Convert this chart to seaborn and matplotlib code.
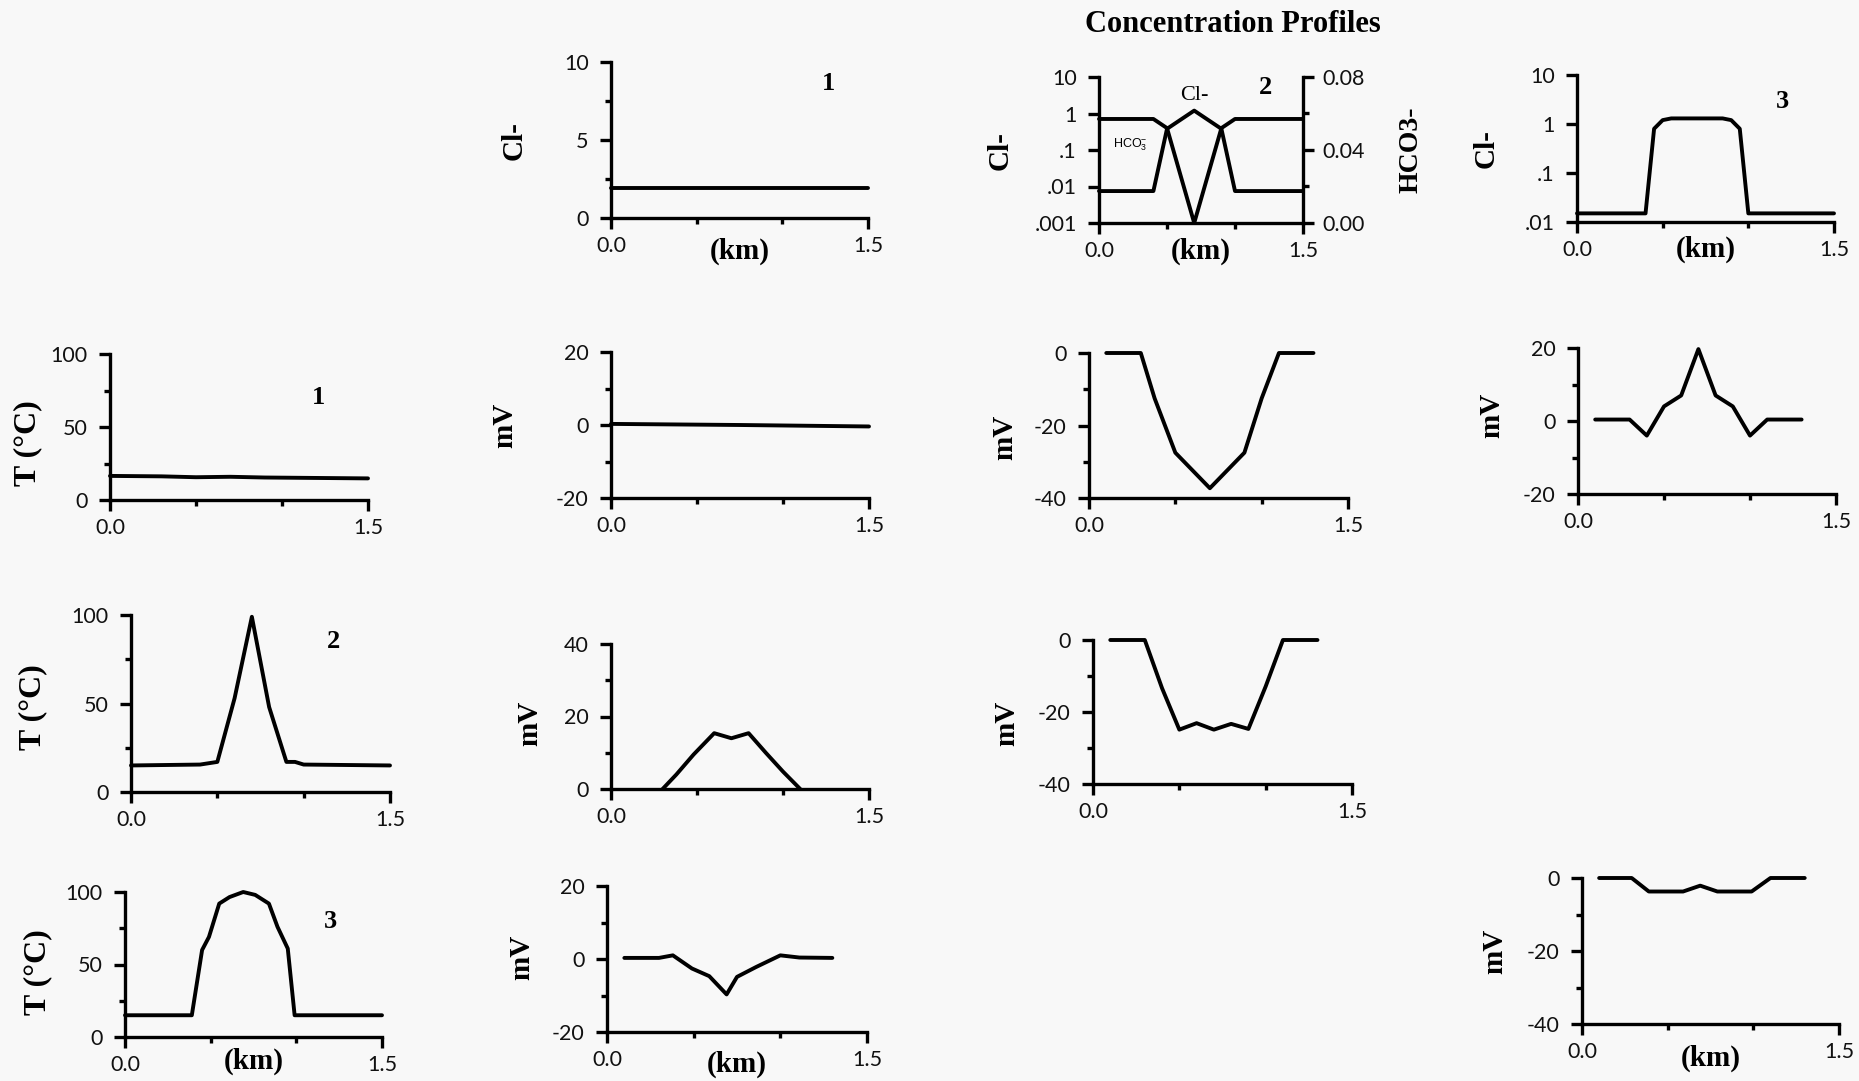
import matplotlib
matplotlib.use("Agg")
import matplotlib.pyplot as plt
import seaborn as sns
from matplotlib.ticker import FixedLocator, NullLocator

# ---------------- data ----------------
km_cl1 = [0.0, 1.5]
cl_1 = [1.9, 1.9]

km_cl2 = [0.0, 0.4, 0.5, 0.7, 0.9, 1.0, 1.5]
cl_2 = [0.0075, 0.0075, 0.38, 1.2, 0.38, 0.0075, 0.0075]
km_hco3 = [0.0, 0.4, 0.5, 0.7, 0.9, 1.0, 1.5]
hco3_2 = [0.057, 0.057, 0.052, 0.0, 0.052, 0.057, 0.057]

km_cl3 = [0.0, 0.4, 0.45, 0.5, 0.55, 0.85, 0.9, 0.95, 1.0, 1.5]
cl_3 = [0.015, 0.015, 0.8, 1.2, 1.3, 1.3, 1.2, 0.8, 0.015, 0.015]

km_t1 = [0.0, 0.3, 0.5, 0.7, 0.9, 1.1, 1.5]
t_1 = [16.5, 16.2, 15.6, 15.9, 15.4, 15.2, 14.8]

km_mv11 = [0.0, 0.75, 1.5]
mv_11 = [0.3, 0.0, -0.4]

km_mv12 = [0.1, 0.3, 0.38, 0.5, 0.7, 0.9, 1.0, 1.1, 1.3]
mv_12 = [0, 0, -12.5, -27.5, -37.3, -27.5, -12.5, 0, 0]

km_mv13 = [0.1, 0.3, 0.4, 0.5, 0.6, 0.7, 0.8, 0.9, 1.0, 1.1, 1.3]
mv_13 = [0.4, 0.4, -4, 4, 7, 19.7, 7, 4, -4, 0.4, 0.4]

km_t2 = [0.0, 0.4, 0.5, 0.6, 0.7, 0.8, 0.9, 0.95, 1.0, 1.5]
t_2 = [15, 15.5, 17, 53, 99, 48, 17, 17, 15.5, 15]

km_mv21 = [0.3, 0.38, 0.48, 0.6, 0.7, 0.8, 0.9, 1.0, 1.1]
mv_21 = [0, 4, 9.5, 15.4, 14, 15.4, 10, 4.8, 0]

km_mv22 = [0.1, 0.3, 0.4, 0.5, 0.6, 0.7, 0.8, 0.9, 1.0, 1.1, 1.3]
mv_22 = [0, 0, -13.4, -24.9, -23.1, -24.9, -23.3, -24.7, -12.9, 0, 0]

km_t3 = [0.0, 0.39, 0.45, 0.49, 0.55, 0.61, 0.69, 0.76, 0.84, 0.89, 0.95, 0.99, 1.5]
t_3 = [15, 15, 60, 69, 92, 96.5, 100, 98, 92, 76, 61, 15, 15]

km_mv31 = [0.1, 0.3, 0.38, 0.49, 0.59, 0.69, 0.75, 0.86, 1.0, 1.11, 1.3]
mv_31 = [0.3, 0.3, 1, -2.6, -4.7, -9.7, -4.9, -2.2, 1, 0.4, 0.3]

km_mv33 = [0.1, 0.29, 0.39, 0.59, 0.69, 0.79, 0.99, 1.1, 1.3]
mv_33 = [0, 0, -3.7, -3.7, -2.1, -3.7, -3.7, 0, 0]

x_tick_labels = ["0.0", "1.5"]

# ---------------- style ----------------
sns.set_theme(style="ticks")
plt.rcParams["font.family"] = ["Lato", "DejaVu Sans"]
plt.rcParams["axes.unicode_minus"] = False
plt.rcParams["mathtext.fontset"] = "custom"
plt.rcParams["mathtext.rm"] = "Liberation Sans"

BG = "#f8f8f8"
W, H = 1859, 1081
fig = plt.figure(figsize=(W / 100, H / 100), dpi=100, facecolor=BG)
SERIF = "Liberation Serif"
LW = 2.8
SW = 2.4


def add_ax(l, r, t, b):
    ax = fig.add_axes([l / W, 1 - b / H, (r - l) / W, (b - t) / H])
    ax.set_facecolor("none")
    return ax


def line(ax, x, y):
    sns.lineplot(x=x, y=y, ax=ax, color="black", linewidth=LW, clip_on=False)


def style(ax, ylim, ymaj, ylabs, ymin, ylabel, lab_xy, km_y=None, lab_fs=21):
    ax.set_xlim(0, 1.5)
    ax.set_ylim(*ylim)
    for s in ["top", "right"]:
        ax.spines[s].set_visible(False)
    for s in ["left", "bottom"]:
        ax.spines[s].set_linewidth(SW)
        ax.spines[s].set_color("black")
    ax.xaxis.set_major_locator(FixedLocator([0.0, 1.5]))
    ax.set_xticklabels(x_tick_labels)
    ax.xaxis.set_minor_locator(FixedLocator([0.5, 1.0]))
    ax.yaxis.set_major_locator(FixedLocator(ymaj))
    ax.set_yticklabels(ylabs)
    if ymin:
        ax.yaxis.set_minor_locator(FixedLocator(ymin))
    else:
        ax.yaxis.set_minor_locator(NullLocator())
    ax.tick_params(which="major", direction="out", length=8, width=SW,
                   labelsize=15.5, color="black", labelcolor="#111111")
    ax.tick_params(which="minor", direction="out", length=4, width=SW, color="black")
    ax.tick_params(axis="x", which="major", pad=5)
    ax.tick_params(axis="y", which="major", pad=8)
    for lab in ax.get_xticklabels() + ax.get_yticklabels():
        lab.set_fontweight("normal")
    ax.set_ylabel(ylabel, fontfamily=SERIF, fontweight="bold", fontsize=lab_fs, color="black")
    ax.yaxis.set_label_coords(*lab_xy)
    if km_y is not None:
        ax.set_xlabel("(km)", fontfamily=SERIF, fontweight="bold", fontsize=21, color="black")
        ax.xaxis.set_label_coords(0.5, km_y)
    else:
        ax.set_xlabel("")


def ftext(x, y, s, **kw):
    fig.text(x / W, 1 - y / H, s, ha="center", va="center", **kw)


TFS = 23

# ---- row 0: concentration ----
ax = add_ax(611, 868, 62, 218)
line(ax, km_cl1, cl_1)
style(ax, (0, 10), [0, 5, 10], ["0", "5", "10"], [2.5, 7.5], "Cl-", (-0.323, 0.5), -0.128)

ax = add_ax(1099, 1303, 77, 223)
ax.set_yscale("log")
line(ax, km_cl2, cl_2)
style(ax, (0.001, 10), [0.001, 0.01, 0.1, 1, 10], [".001", ".01", ".1", "1", "10"], None,
      "Cl-", (-0.42, 0.5), -0.10)
ax2 = ax.twinx()
ax2.set_facecolor("none")
line(ax2, km_hco3, hco3_2)
ax2.set_ylim(0, 0.08)
ax2.set_xlim(0, 1.5)
for s in ["top", "left", "bottom"]:
    ax2.spines[s].set_visible(False)
ax2.spines["right"].set_linewidth(SW)
ax2.spines["right"].set_color("black")
ax2.yaxis.set_major_locator(FixedLocator([0.0, 0.04, 0.08]))
ax2.set_yticklabels(["0.00", "0.04", "0.08"])
ax2.yaxis.set_minor_locator(FixedLocator([0.02, 0.06]))
ax2.tick_params(which="major", direction="out", length=8, width=SW, labelsize=15.5,
                pad=6, color="black", labelcolor="#111111")
ax2.tick_params(which="minor", direction="out", length=4, width=SW, color="black")
for lab in ax2.get_yticklabels():
    lab.set_fontweight("normal")
ax2.set_ylabel("HCO3-", fontfamily=SERIF, fontweight="bold", fontsize=20, color="black")
ax2.yaxis.set_label_coords(1.47, 0.5)
ftext(1194, 95, "Cl-", fontfamily=SERIF, fontsize=16, color="black")
ftext(1130, 145, r"HCO$_3^{-}$", fontfamily="Liberation Sans", fontsize=9, color="black")

ax = add_ax(1577, 1834, 75, 222)
ax.set_yscale("log")
line(ax, km_cl3, cl_3)
style(ax, (0.01, 10), [0.01, 0.1, 1, 10], [".01", ".1", "1", "10"], None,
      "Cl-", (-0.30, 0.5), -0.09)

# ---- row 1 ----
ax = add_ax(110, 368, 354, 500)
line(ax, km_t1, t_1)
style(ax, (0, 100), [0, 50, 100], ["0", "50", "100"], [25, 75], "T (°C)", (-0.264, 0.39), lab_fs=TFS)

ax = add_ax(611, 869, 352, 498)
line(ax, km_mv11, mv_11)
style(ax, (-20, 20), [-20, 0, 20], ["-20", "0", "20"], [-10, 10], "mV", (-0.36, 0.5))

ax = add_ax(1089, 1348, 353, 498)
line(ax, km_mv12, mv_12)
style(ax, (-40, 0), [-40, -20, 0], ["-40", "-20", "0"], [-30, -10], "mV", (-0.274, 0.42))

ax = add_ax(1578, 1836, 348, 494)
line(ax, km_mv13, mv_13)
style(ax, (-20, 20), [-20, 0, 20], ["-20", "0", "20"], [-10, 10], "mV", (-0.283, 0.54))

# ---- row 2 ----
ax = add_ax(131, 390, 615, 792)
line(ax, km_t2, t_2)
style(ax, (0, 100), [0, 50, 100], ["0", "50", "100"], [25, 75], "T (°C)", (-0.324, 0.48), lab_fs=TFS)

ax = add_ax(611, 869, 644, 789)
line(ax, km_mv21, mv_21)
style(ax, (0, 40), [0, 20, 40], ["0", "20", "40"], [10, 30], "mV", (-0.264, 0.45))

ax = add_ax(1093, 1352, 640, 784)
line(ax, km_mv22, mv_22)
style(ax, (-40, 0), [-40, -20, 0], ["-40", "-20", "0"], [-30, -10], "mV", (-0.28, 0.42))

# ---- row 3 ----
ax = add_ax(125, 382, 892, 1037)
line(ax, km_t3, t_3)
style(ax, (0, 100), [0, 50, 100], ["0", "50", "100"], [25, 75], "T (°C)", (-0.284, 0.45), -0.076, lab_fs=TFS)

ax = add_ax(607, 867, 886, 1032)
line(ax, km_mv31, mv_31)
style(ax, (-20, 20), [-20, 0, 20], ["-20", "0", "20"], [-10, 10], "mV", (-0.277, 0.51), -0.125)

ax = add_ax(1582, 1839, 878, 1024)
line(ax, km_mv33, mv_33)
style(ax, (-40, 0), [-40, -20, 0], ["-40", "-20", "0"], [-30, -10], "mV", (-0.288, 0.5), -0.144)

# ---- texts ----
ftext(1233, 24, "Concentration Profiles", fontfamily=SERIF, fontweight="bold", fontsize=22, color="black")
for (x, y, s) in [(829, 84, "1"), (1265, 87, "2"), (1782, 102, "3"),
                  (319, 397, "1"), (333, 641, "2"), (330, 922, "3")]:
    ftext(x, y, s, fontfamily=SERIF, fontweight="bold", fontsize=19, color="black")

fig.savefig("out.png", dpi=100, facecolor=BG)
